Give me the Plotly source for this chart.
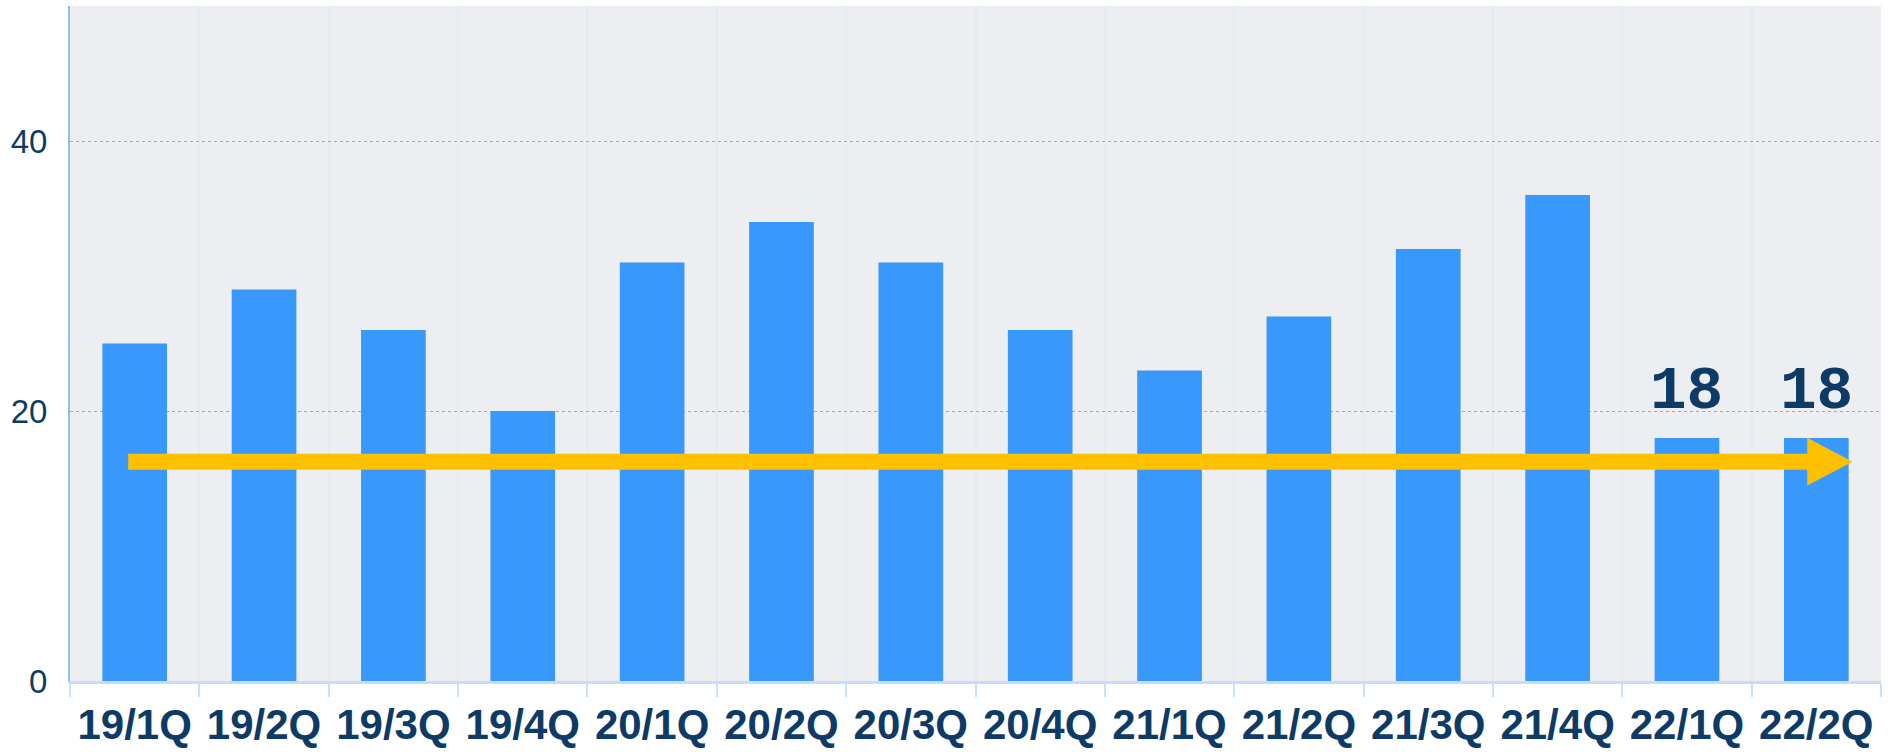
import plotly.graph_objects as go

categories = ["19/1Q", "19/2Q", "19/3Q", "19/4Q", "20/1Q", "20/2Q", "20/3Q",
              "20/4Q", "21/1Q", "21/2Q", "21/3Q", "21/4Q", "22/1Q", "22/2Q"]
values = [25, 29, 26, 20, 31, 34, 31, 26, 23, 27, 32, 36, 18, 18]
labeled = ["22/1Q", "22/2Q"]
y_ticks = [0, 20, 40]
arrow_level = 16.25

NAVY = "#0e3b66"
BAR = "#3898fc"
ARROW = "#ffc000"

fig = go.Figure()
fig.add_trace(go.Bar(x=categories, y=values, marker=dict(color=BAR, line=dict(width=0)),
                     width=0.5, hoverinfo="skip"))

for c in labeled:
    v = values[categories.index(c)]
    fig.add_annotation(x=c, y=v, text=f"<b>{v}</b>", showarrow=False,
                       yanchor="bottom", yshift=10,
                       font=dict(family="Liberation Mono", size=61, color=NAVY))

# arrow on a hidden linear overlay axis
fig.add_shape(type="line", xref="x2", yref="y", x0=-0.05, x1=12.95,
              y0=arrow_level, y1=arrow_level, line=dict(color=ARROW, width=16), layer="above")
fig.add_shape(type="path", xref="x2", yref="y",
              path=f"M 12.93 {arrow_level+1.77} L 13.28 {arrow_level} L 12.93 {arrow_level-1.77} Z",
              fillcolor=ARROW, line=dict(width=0), layer="above")

fig.update_layout(
    width=1888, height=754,
    margin=dict(l=70, r=7, t=6, b=70),
    paper_bgcolor="white", plot_bgcolor="#edeef1",
    showlegend=False,
    font=dict(family="Liberation Sans, Arial", color=NAVY),
    xaxis=dict(type="category", tickson="boundaries", ticks="outside", ticklen=13,
               tickcolor="#c9e0f7", tickwidth=2, showgrid=True, gridcolor="#e2ebf6", gridwidth=2,
               showline=True, linecolor="#c5ddf6", linewidth=3,
               tickfont=dict(size=42, color=NAVY, weight="bold"), ticklabelstandoff=5),
    xaxis2=dict(overlaying="x", range=[-0.5, 13.5], visible=False),
    yaxis=dict(range=[0, 50], tickvals=y_ticks, showgrid=True, gridcolor="#a9a9a9",
               griddash="dot", gridwidth=1, zeroline=False, showline=True,
               linecolor="#8fc0f2", linewidth=2, ticks="", tickfont=dict(size=33, color=NAVY),
               ticklabelstandoff=14),
)

fig.write_html("out.html")
